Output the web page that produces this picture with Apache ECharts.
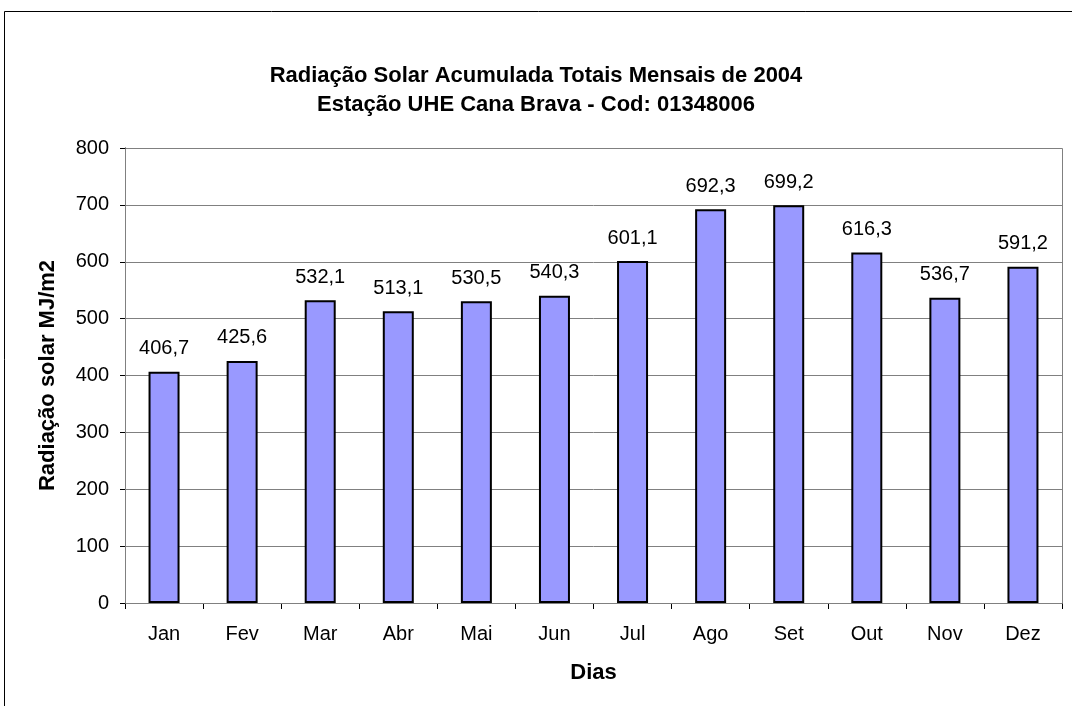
<!DOCTYPE html>
<html>
<head>
<meta charset="utf-8">
<script src="https://cdn.jsdelivr.net/npm/echarts@6/dist/echarts.min.js"></script>
<style>
html,body{margin:0;padding:0;background:#fff;}
#chart{width:1072px;height:706px;}
</style>
</head>
<body>
<div id="chart"></div>
<script>
// dados
var meses = ['Jan','Fev','Mar','Abr','Mai','Jun','Jul','Ago','Set','Out','Nov','Dez'];
var radiacao = [406.7,425.6,532.1,513.1,530.5,540.3,601.1,692.3,699.2,616.3,536.7,591.2];
var titulo1 = 'Radiação Solar Acumulada Totais Mensais de 2004';
var titulo2 = 'Estação UHE Cana Brava - Cod: 01348006';

var chartDom = document.getElementById('chart');
var myChart = echarts.init(chartDom);
var fonte = '"Liberation Sans", Arial, sans-serif';

var option = {
    animation: false,
    backgroundColor: '#fff',
    graphic: [
        {   // moldura externa
            type: 'rect',
            shape: {x: 4.5, y: 11.5, width: 1100, height: 720},
            style: {fill: 'none', stroke: '#000', lineWidth: 1},
            z: 0
        },
        {
            type: 'text', left: 'center', top: 61,
            style: {text: titulo1 + '\n' + titulo2, textAlign: 'center', fill: '#000',
                font: 'bold 22px ' + fonte, lineHeight: 29}
        },
        {   // borda cinza do plot
            type: 'rect',
            shape: {x: 125.5, y: 148.5, width: 937, height: 455},
            style: {fill: 'none', stroke: '#808080', lineWidth: 1},
            z: 1
        }
    ],
    grid: {left: 125, top: 148, right: 10, bottom: 103, containLabel: false},
    xAxis: {
        type: 'category',
        data: meses,
        name: 'Dias',
        nameLocation: 'middle',
        nameGap: 59,
        nameTextStyle: {fontFamily: fonte, fontSize: 22, fontWeight: 'bold', color: '#000'},
        axisLine: {lineStyle: {color: '#000', width: 1}},
        axisTick: {show: true, inside: false, length: 6, lineStyle: {color: '#000'}},
        axisLabel: {fontFamily: fonte, fontSize: 20, color: '#000', margin: 21}
    },
    yAxis: {
        type: 'value',
        min: 0, max: 800, interval: 100,
        name: 'Radiação solar MJ/m2',
        nameLocation: 'middle',
        nameGap: 66,
        nameTextStyle: {fontFamily: fonte, fontSize: 22, fontWeight: 'bold', color: '#000'},
        axisLine: {show: true, lineStyle: {color: '#000', width: 1}},
        axisTick: {show: true, length: 5, lineStyle: {color: '#000'}},
        axisLabel: {fontFamily: fonte, fontSize: 20, color: '#000', margin: 16},
        splitLine: {lineStyle: {color: '#808080', width: 1}}
    },
    series: [
        {
            name: 'Radiação',
            type: 'bar',
            data: radiacao,
            barWidth: 31,
            itemStyle: {color: '#9999ff', borderColor: '#000', borderWidth: 2},
            label: {
                show: true, position: 'top', distance: 13,
                fontFamily: fonte, fontSize: 20, color: '#000',
                formatter: function(p){ return p.value.toFixed(1).replace('.', ','); }
            }
        }
    ]
};
myChart.setOption(option);
</script>
</body>
</html>
